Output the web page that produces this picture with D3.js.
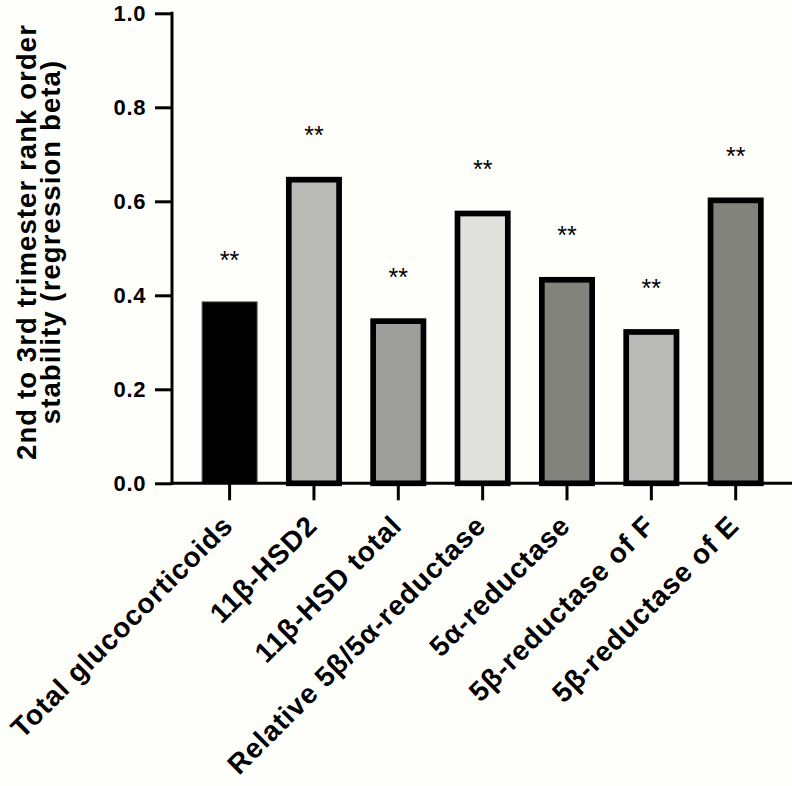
<!DOCTYPE html>
<html>
<head>
<meta charset="utf-8">
<script src="https://cdn.jsdelivr.net/npm/d3@7"></script>
<style>
  html, body { margin: 0; padding: 0; background: #fefefb; }
  svg { display: block; }
  text { font-family: "Liberation Sans", Arial, sans-serif; }
</style>
</head>
<body>
<div id="chart"></div>
<script>
const categories = ["Total glucocorticoids", "11β-HSD2", "11β-HSD total", "Relative 5β/5α-reductase", "5α-reductase", "5β-reductase of F", "5β-reductase of E"];
const values = [0.386, 0.646, 0.345, 0.574, 0.433, 0.322, 0.602];
const significance = ["**", "**", "**", "**", "**", "**", "**"];
const fills = ["#000000", "#babab6", "#9e9f9a", "#e0e0dd", "#83837e", "#babab6", "#83837e"];
const yTicks = [0, 0.2, 0.4, 0.6, 0.8, 1.0];
const yTitle = ["2nd to 3rd trimester rank order", "stability (regression beta)"];

const W = 792, H = 786;
const svg = d3.select("#chart").append("svg").attr("width", W).attr("height", H);
svg.append("rect").attr("width", W).attr("height", H).attr("fill", "#fefefb");

const y = d3.scaleLinear().domain([0, 1]).range([483.3, 13.3]);
const step = 84.35;
const x = d3.scaleBand().domain(categories)
  .range([229.6 - step / 2, 229.6 - step / 2 + step * categories.length])
  .paddingInner(0).paddingOuter(0);
const barOuter = 56;
const sw = 5.7;

// bars
const g = svg.append("g");
categories.forEach((c, i) => {
  const cx = x(c) + x.bandwidth() / 2;
  const thick = i !== 0;
  const w = thick ? barOuter - sw : barOuter - 1;
  g.append("rect")
    .attr("x", cx - w / 2)
    .attr("y", y(values[i]))
    .attr("width", w)
    .attr("height", y(0) - y(values[i]))
    .attr("fill", fills[i])
    .attr("stroke", thick ? "#000" : "#555")
    .attr("stroke-width", thick ? sw : 1);
  const outerTop = y(values[i]) - (thick ? sw / 2 : 0);
  g.append("text")
    .attr("x", cx)
    .attr("y", outerTop - 32.5)
    .attr("text-anchor", "middle")
    .attr("font-size", 25)
    .attr("fill", "#000")
    .text(significance[i]);
});

// y axis
const yAxis = svg.append("g").attr("transform", "translate(172,0)")
  .call(d3.axisLeft(y).tickValues(yTicks).tickFormat(d3.format(".1f")).tickSize(17).tickPadding(9));
yAxis.select(".domain").attr("stroke", "#000").attr("stroke-width", 3)
  .attr("d", `M0,${y(1) - 1.5}V${y(0) + 1.5}`);
yAxis.selectAll(".tick line").attr("stroke", "#000").attr("stroke-width", 3);
yAxis.selectAll(".tick text").attr("font-size", 22).attr("font-weight", "bold").attr("fill", "#000")
  .attr("letter-spacing", 0.6)
  .style("font-family", "'Liberation Sans', Arial, sans-serif");

// x axis
const xAxis = svg.append("g").attr("transform", `translate(0,${y(0)})`)
  .call(d3.axisBottom(x).tickSize(17).tickFormat(""));
xAxis.select(".domain").attr("stroke", "#000").attr("stroke-width", 3)
  .attr("d", `M170.5,0H${W}`);
xAxis.selectAll(".tick line").attr("stroke", "#000").attr("stroke-width", 3);

// x labels
categories.forEach((c) => {
  const cx = x(c) + x.bandwidth() / 2;
  svg.append("text")
    .attr("transform", `translate(${cx + 5},${y(0) + 44}) rotate(-45)`)
    .attr("text-anchor", "end")
    .attr("font-size", 28)
    .attr("letter-spacing", 0.9)
    .attr("font-weight", "bold")
    .attr("fill", "#000")
    .text(c);
});

// y title
const yt = svg.append("text")
  .attr("transform", `translate(0,242) rotate(-90)`)
  .attr("text-anchor", "middle")
  .attr("font-size", 27.5)
  .attr("letter-spacing", 1.1)
  .attr("font-weight", "bold")
  .attr("fill", "#000");
yt.append("tspan").attr("x", 0).attr("y", 36).text(yTitle[0]);
yt.append("tspan").attr("x", 0).attr("y", 60).text(yTitle[1]);
</script>
</body>
</html>
